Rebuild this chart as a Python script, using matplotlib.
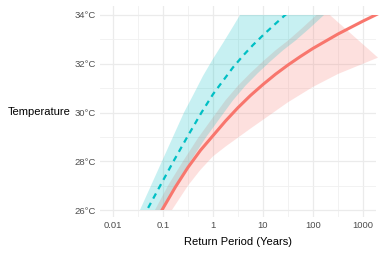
import matplotlib
matplotlib.use('Agg')

import numpy as np
import matplotlib.pyplot as plt
from matplotlib.patches import Rectangle

plt.rcParams['font.family'] = ['Liberation Sans', 'DejaVu Sans']

# x values are log10(return period in years)
red_lx = [-1.1, -1.02, -0.75, -0.5, -0.25, 0.0, 0.25, 0.5, 0.75, 1.0, 1.25, 1.5,
          1.75, 2.0, 2.5, 3.0, 3.3]
red_t = [25.7, 26.0, 26.95, 27.75, 28.45, 29.05, 29.65, 30.2, 30.7, 31.15, 31.57,
         31.95, 32.3, 32.63, 33.22, 33.75, 34.05]

red_hi_lx = [-1.3, -1.16, -0.9, -0.6, -0.3, 0.0, 0.25, 0.5, 0.75, 1.0, 1.25, 1.5,
             1.75, 2.07, 2.2]
red_hi_t = [25.55, 26.0, 27.0, 28.0, 28.95, 29.8, 30.5, 31.1, 31.62, 32.1, 32.55,
            32.95, 33.4, 34.0, 34.25]
red_lo_lx = [-0.9, -0.82, -0.5, -0.25, 0.0, 0.25, 0.5, 0.75, 1.0, 1.5, 2.0, 2.5,
             3.0, 3.3]
red_lo_t = [25.7, 26.0, 27.0, 27.65, 28.2, 28.6, 28.97, 29.34, 29.7, 30.42, 31.05,
            31.58, 32.0, 32.25]

blue_lx = [-1.4, -1.32, -1.05, -0.79, -0.5, -0.23, 0.0, 0.2, 0.4, 0.6, 0.8, 1.0,
           1.2, 1.4, 1.5]
blue_t = [25.7, 26.0, 27.02, 28.0, 29.05, 30.0, 30.75, 31.3, 31.85, 32.33, 32.77,
          33.17, 33.55, 33.92, 34.1]

blue_hi_lx = [-1.55, -1.46, -1.24, -1.02, -0.8, -0.58, -0.4, -0.2, 0.0, 0.2, 0.4,
              0.54, 0.65]
blue_hi_t = [25.5, 26.0, 27.0, 28.0, 29.0, 30.0, 30.7, 31.5, 32.2, 32.85, 33.52,
             34.0, 34.35]
blue_lo_lx = [-1.15, -1.01, -0.73, -0.45, -0.15, 0.15, 0.4, 0.65, 0.9, 1.15, 1.4,
              1.65, 1.93, 2.22, 2.35]
blue_lo_t = [25.55, 26.0, 27.0, 28.0, 28.95, 29.8, 30.5, 31.1, 31.62, 32.1, 32.55,
             32.95, 33.45, 34.0, 34.25]

x_ticks = [0.01, 0.1, 1, 10, 100, 1000]
x_labels = ['0.01', '0.1', '1', '10', '100', '1000']
y_ticks = [26, 28, 30, 32, 34]
y_labels = ['26°C', '28°C', '30°C', '32°C', '34°C']

RED = '#F8766D'
CYAN = '#00BFC4'


def band(lx_hi, t_hi, lx_lo, t_lo):
    # polygon in (return period, temperature)
    xs = np.concatenate([10 ** np.array(lx_hi), 10 ** np.array(lx_lo)[::-1]])
    ys = np.concatenate([t_hi, t_lo[::-1]])
    return xs, ys


fig = plt.figure(figsize=(3.82, 2.54), dpi=100)
ax = fig.add_axes([100 / 382, 1 - 217 / 254, 276 / 382, 211 / 254])
ax.set_xscale('log')
ax.set_xlim(10 ** -2.26, 10 ** 3.26)
ax.set_ylim(26 - 7 / 24.375, 34 + 9 / 24.375)

# data outside 26..34 is cut, like the original scale limits
clip = Rectangle((1e-4, 26), 1e5, 8, transform=ax.transData)

xs, ys = band(red_hi_lx, red_hi_t, red_lo_lx, red_lo_t)
p1 = ax.fill(xs, ys, color=RED, alpha=0.22, lw=0, zorder=2)[0]
xs, ys = band(blue_hi_lx, blue_hi_t, blue_lo_lx, blue_lo_t)
p2 = ax.fill(xs, ys, color=CYAN, alpha=0.22, lw=0, zorder=2)[0]

l1, = ax.plot(10 ** np.array(red_lx), red_t, color=RED, lw=2.2, zorder=3,
              solid_capstyle='butt')
l2, = ax.plot(10 ** np.array(blue_lx), blue_t, color=CYAN, lw=1.6, zorder=3,
              linestyle=(0, (2.6, 2.2)), dash_capstyle='butt')
for a in (p1, p2, l1, l2):
    a.set_clip_path(clip)

# grid, theme_minimal look
ax.set_xticks(x_ticks)
ax.set_xticklabels(x_labels)
ax.set_xticks([10 ** v for v in (-1.5, -0.5, 0.5, 1.5, 2.5)], minor=True)
ax.set_xticklabels([], minor=True)
ax.set_yticks(y_ticks)
ax.set_yticklabels(y_labels)
ax.set_yticks([27, 29, 31, 33], minor=True)
ax.grid(True, which='major', color='#EBEBEB', lw=0.9, zorder=0)
ax.grid(True, which='minor', color='#F0F0F0', lw=0.6, zorder=0)
ax.set_axisbelow(True)
for s in ax.spines.values():
    s.set_visible(False)
ax.tick_params(which='both', length=0, labelsize=6.8, labelcolor='#4D4D4D', pad=3)

ax.set_xlabel('Return Period (Years)', fontsize=8, color='black', labelpad=5)
ax.set_ylabel('Temperature', fontsize=8, color='black', rotation=0,
              ha='right', va='center', labelpad=3)

fig.savefig('out.png', dpi=100)
